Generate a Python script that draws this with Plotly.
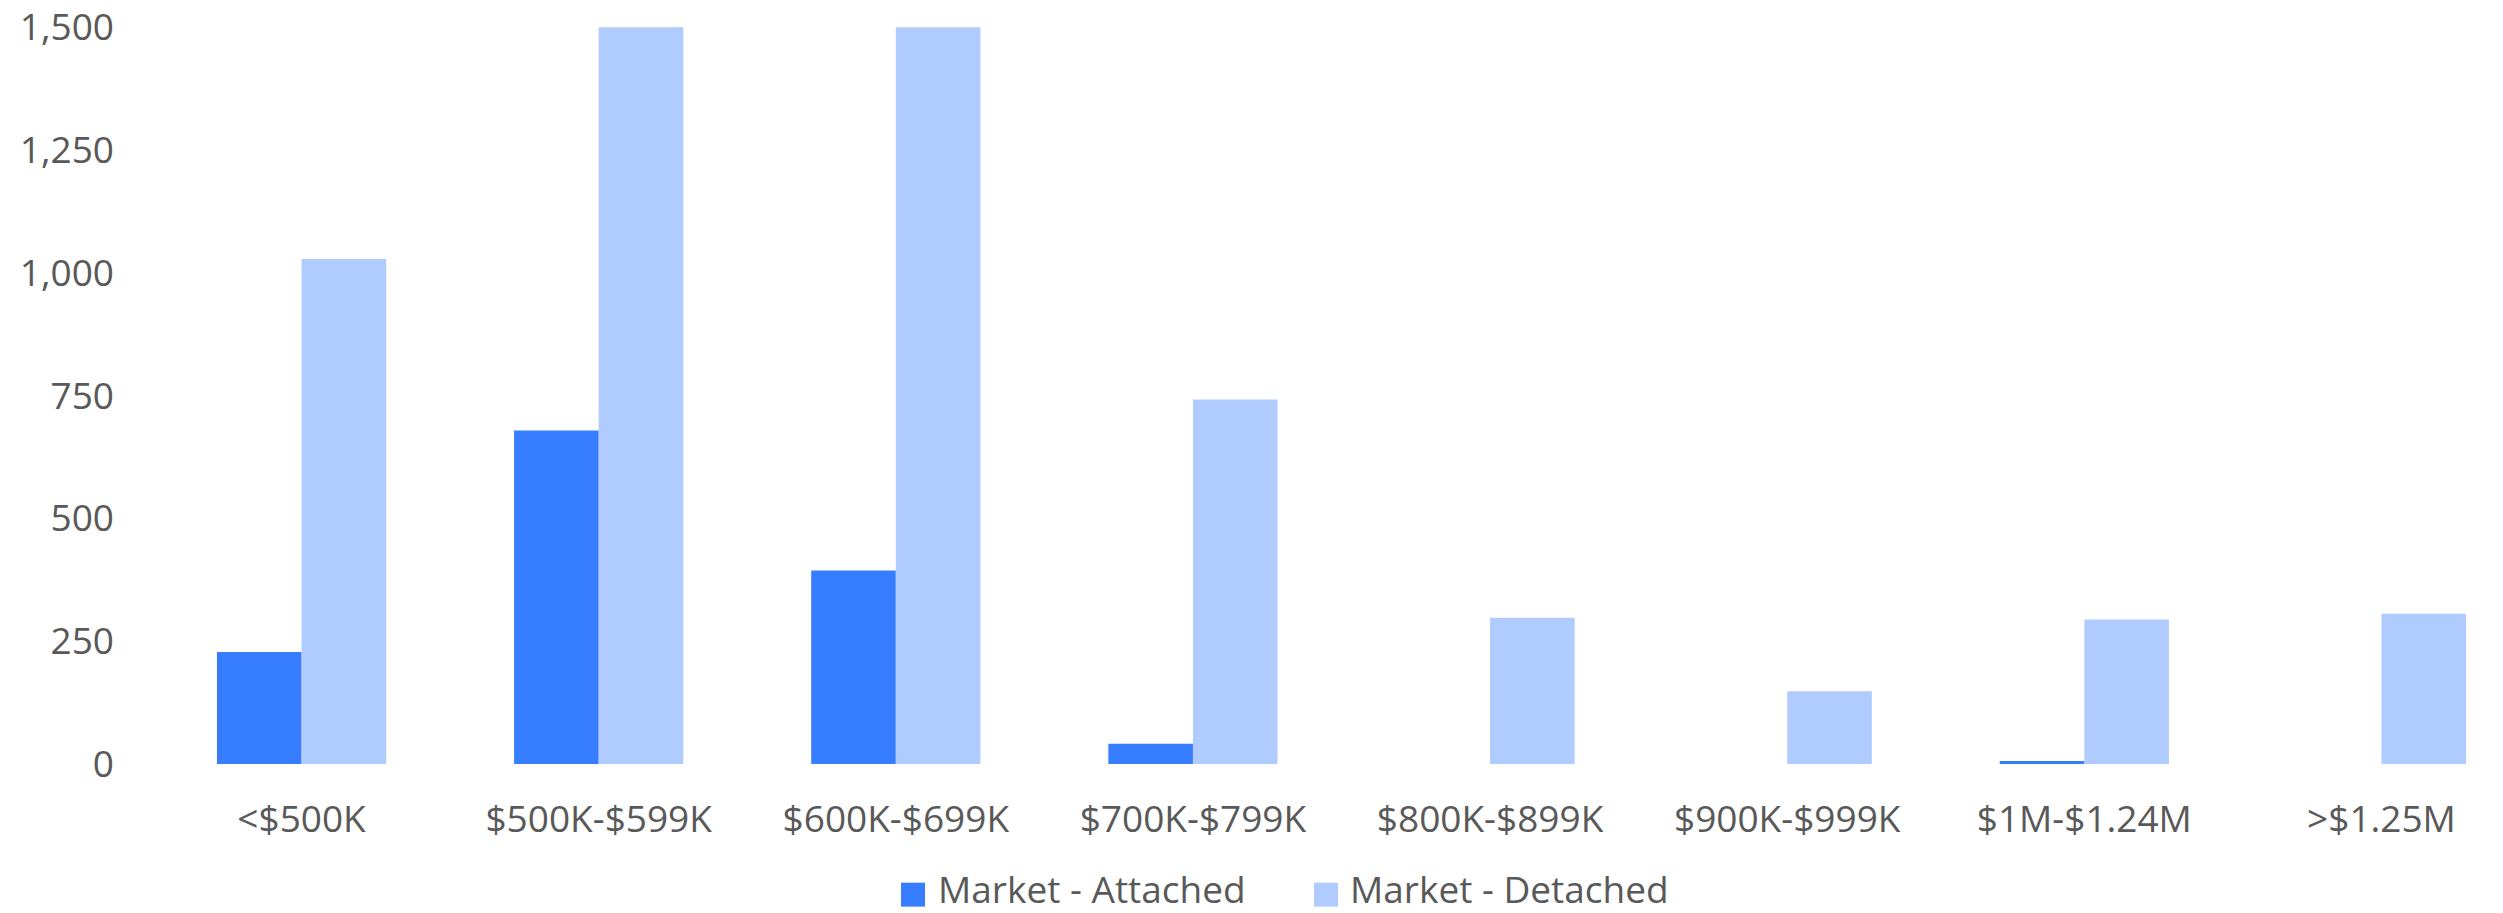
import plotly.graph_objects as go

# Price bands and unit counts per home type
price_bands = ["<$500K", "$500K-$599K", "$600K-$699K", "$700K-$799K",
               "$800K-$899K", "$900K-$999K", "$1M-$1.24M", ">$1.25M"]
attached = [228, 679, 394, 41, 0, 0, 6, 0]
detached = [1028, 1500, 1500, 742, 298, 148, 294, 306]
y_ticks = [0, 250, 500, 750, 1000, 1250, 1500]

series_names = ["Market - Attached", "Market - Detached"]
series_colors = ["#377DFF", "#B0CBFF"]

W, H = 2503, 913
M_L, M_R, M_T, M_B = 153, 0, 25, 149
FONT = "Open Sans"
FONT_SIZE = 37
TEXT_COLOR = "#595959"

fig = go.Figure()
for name, vals, col in zip(series_names, [attached, detached], series_colors):
    fig.add_trace(go.Bar(
        x=list(range(len(price_bands))), y=vals, name=name,
        marker=dict(color=col, line=dict(width=0)),
        showlegend=False,
    ))

# Legend drawn in paper space so the swatches can be sized freely
plot_w = W - M_L - M_R
plot_h = H - M_T - M_B


def px_x(px):
    return (px - M_L) / plot_w


def px_y(py):
    return (H - M_B - py) / plot_h


legend_items = [(901, 936), (1314, 1348)]
shapes = []
annotations = []
for (sq_x, txt_x), name, col in zip(legend_items, series_names, series_colors):
    shapes.append(dict(type="rect", xref="paper", yref="paper",
                       x0=px_x(sq_x), x1=px_x(sq_x + 24),
                       y0=px_y(907), y1=px_y(883),
                       fillcolor=col, line=dict(width=0)))
    annotations.append(dict(xref="paper", yref="paper", x=px_x(txt_x), y=px_y(889),
                            xanchor="left", yanchor="middle", showarrow=False,
                            text=name, font=dict(family=FONT, size=FONT_SIZE, color=TEXT_COLOR)))

fig.update_layout(
    width=W, height=H,
    margin=dict(l=M_L, r=M_R, t=M_T, b=M_B, pad=0),
    paper_bgcolor="white", plot_bgcolor="white",
    barmode="group", bargap=0.4305, bargroupgap=0,
    font=dict(family=FONT, size=FONT_SIZE, color=TEXT_COLOR),
    shapes=shapes, annotations=annotations,
    showlegend=False,
)
fig.update_xaxes(
    tickmode="array", tickvals=list(range(len(price_bands))), ticktext=price_bands,
    range=[-0.5, 7.409], showgrid=False, zeroline=False, showline=False,
    ticks="", ticklabelstandoff=30,
    tickfont=dict(family=FONT, size=FONT_SIZE, color=TEXT_COLOR),
)
fig.update_yaxes(
    range=[0, 1500.5], tickmode="array", tickvals=y_ticks,
    ticktext=[f"{v:,}" for v in y_ticks],
    showgrid=False, zeroline=False, showline=False, ticks="",
    ticklabelstandoff=38, ticklabeloverflow="allow",
    tickfont=dict(family=FONT, size=FONT_SIZE, color=TEXT_COLOR),
)

fig.write_html("out.html")
